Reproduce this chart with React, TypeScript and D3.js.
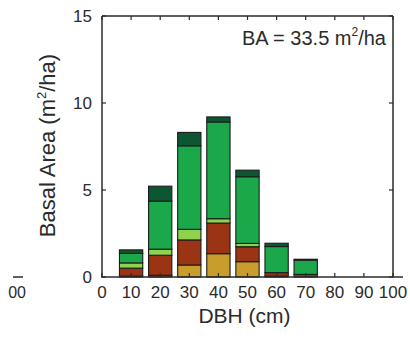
import React from "react";
import * as d3 from "d3";

// Basal area by diameter class, stacked by group (bottom to top)
const dbhClasses = [10, 20, 30, 40, 50, 60, 70];
const golden = [0.05, 0.1, 0.69, 1.34, 0.88, 0.05, 0.0];
const brown = [0.46, 1.15, 1.44, 1.76, 0.86, 0.2, 0.15];
const lightGreen = [0.3, 0.35, 0.61, 0.25, 0.19, 0.0, 0.0];
const green = [0.55, 2.76, 4.8, 5.56, 3.83, 1.5, 0.82];
const darkGreen = [0.2, 0.86, 0.77, 0.29, 0.38, 0.19, 0.05];

const layerNames = ["golden", "brown", "lightGreen", "green", "darkGreen"];
const layerValues = [golden, brown, lightGreen, green, darkGreen];
const layerColors = ["#c99d2c", "#9a3414", "#8fd24e", "#1aa84b", "#0c5631"];

const xTicks = [0, 10, 20, 30, 40, 50, 60, 70, 80, 90, 100];
const yTicks = [0, 5, 10, 15];
const baTotal = "33.5";

const W = 410;
const H = 339;
const left = 102;
const right = 393;
const top = 16;
const bottom = 277;
const barWidthUnits = 8;

export default function App() {
  const x = d3.scaleLinear().domain([0, 100]).range([left, right]);
  const y = d3.scaleLinear().domain([0, 15]).range([bottom, top]);

  const rows = dbhClasses.map((d, i) => {
    const r: Record<string, number> = { dbh: d };
    layerNames.forEach((n, j) => (r[n] = layerValues[j][i]));
    return r;
  });
  const series = d3.stack<Record<string, number>>().keys(layerNames)(rows);

  const font = "'Liberation Sans', Arial, Helvetica, sans-serif";
  const ink = "#2b2b2b";

  return (
    <svg
      width={W}
      height={H}
      style={{ position: "absolute", left: 0, top: 0, background: "#fff" }}
      fontFamily={font}
    >
      {/* neighbouring panel remnant at the left edge */}
      <line x1={13} x2={23} y1={277} y2={277} stroke={ink} strokeWidth={1.5} />
      <text x={26} y={298} fontSize={16} fill={ink} textAnchor="end">
        00
      </text>

      {/* stacked bars */}
      {series.map((s, j) => (
        <g key={s.key} fill={layerColors[j]} stroke="#1c1c1c" strokeWidth={1.1}>
          {s.map((d, i) => {
            const h = y(d[0]) - y(d[1]);
            if (h <= 0) return null;
            const c = dbhClasses[i];
            return (
              <rect
                key={i}
                x={x(c - barWidthUnits / 2)}
                y={y(d[1])}
                width={x(c + barWidthUnits / 2) - x(c - barWidthUnits / 2)}
                height={h}
              />
            );
          })}
        </g>
      ))}

      {/* frame */}
      <g stroke={ink} strokeWidth={1.5} fill="none">
        <line x1={left} x2={left} y1={top} y2={bottom} />
        <line x1={right} x2={right} y1={top} y2={bottom} />
        <line x1={left} x2={right} y1={top} y2={top} />
        <line x1={left - 1} x2={right + 10} y1={bottom} y2={bottom} />
      </g>

      {/* ticks */}
      <g stroke={ink} strokeWidth={1.2}>
        {xTicks.map((t) => (
          <g key={"xt" + t}>
            <line x1={x(t)} x2={x(t)} y1={bottom} y2={bottom - 4} />
            <line x1={x(t)} x2={x(t)} y1={top} y2={top + 4} />
          </g>
        ))}
        {yTicks.map((t) => (
          <g key={"yt" + t}>
            <line x1={left} x2={left + 4} y1={y(t)} y2={y(t)} />
            <line x1={right} x2={right - 4} y1={y(t)} y2={y(t)} />
          </g>
        ))}
      </g>

      {/* tick labels */}
      <g fill={ink} fontSize={17}>
        {xTicks.map((t) => (
          <text key={"xl" + t} x={x(t)} y={298} textAnchor="middle">
            {t}
          </text>
        ))}
        {yTicks.map((t) => (
          <text key={"yl" + t} x={left - 10} y={y(t) + 6} textAnchor="end">
            {t}
          </text>
        ))}
      </g>

      {/* axis titles */}
      <text x={(left + right) / 2 - 3} y={323} fontSize={21} fill={ink} textAnchor="middle">
        DBH (cm)
      </text>
      <text
        transform={`translate(55, ${(48 + 243) / 2}) rotate(-90)`}
        fontSize={22}
        fill={ink}
        textAnchor="middle"
      >
        Basal Area (m
        <tspan fontSize={13} dy={-9}>2</tspan>
        <tspan dy={9}>/ha)</tspan>
      </text>

      {/* total basal area annotation */}
      <text x={386} y={45} fontSize={20} fill={ink} textAnchor="end">
        BA = {baTotal} m
        <tspan fontSize={12} dy={-9}>2</tspan>
        <tspan dy={9}>/ha</tspan>
      </text>
    </svg>
  );
}
